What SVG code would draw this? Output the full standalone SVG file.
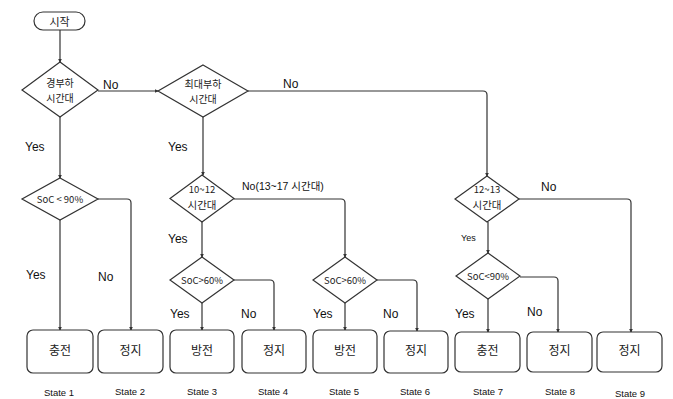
<svg xmlns="http://www.w3.org/2000/svg" width="673" height="399" viewBox="0 0 673 399">
<style>
.shape{fill:#fff;stroke:#333;stroke-width:1.2}
.edge{fill:none;stroke:#333;stroke-width:1.2;marker-end:url(#arr)}
.ko{font-family:"Noto Sans CJK KR","Liberation Sans",sans-serif;fill:#222;text-anchor:middle}
.lb{font-family:"Liberation Sans","Noto Sans CJK KR",sans-serif;fill:#111;font-size:12px}
.st{font-family:"Liberation Sans",sans-serif;fill:#111;font-size:9.5px;text-anchor:middle}
</style>
<defs>
<marker id="arr" viewBox="0 0 6 6" refX="5" refY="3" markerWidth="4" markerHeight="4" orient="auto" markerUnits="userSpaceOnUse">
<path d="M0,0 L6,3 L0,6 Z" fill="#333"/>
</marker>
</defs>
<rect width="673" height="399" fill="#fff"/>
<g id="connectors">
<path class="edge" d="M60,30 V62"/>
<path class="edge" d="M98,91 H158"/>
<path class="edge" d="M60,117 V178"/>
<path class="edge" d="M98,199 H127 Q131,199 131,203 V330"/>
<path class="edge" d="M60,220 V330"/>
<path class="edge" d="M248,91 H483 Q487,91 487,95 V176"/>
<path class="edge" d="M203,117 V175"/>
<path class="edge" d="M234,199 H341 Q345,199 345,203 V257"/>
<path class="edge" d="M202,222 V257"/>
<path class="edge" d="M202,303 V330"/>
<path class="edge" d="M234,280 H270 Q274,280 274,284 V330"/>
<path class="edge" d="M345,303 V330"/>
<path class="edge" d="M377,280 H413 Q417,280 417,284 V331"/>
<path class="edge" d="M519,199 H627 Q631,199 631,203 V332"/>
<path class="edge" d="M488,222 V253"/>
<path class="edge" d="M488,299 V332"/>
<path class="edge" d="M520,277 H554 Q558,277 558,281 V332"/>
</g>
<g id="start"><rect class="shape" x="34" y="12" width="51" height="18" rx="9"/><text class="ko" x="59.5" y="25.5" font-size="11">시작</text></g>
<g id="d1"><polygon class="shape" points="60,62 98,90 60,117 22,90"/><text class="ko" x="60" y="87" font-size="10">경부하</text><text class="ko" x="60" y="102" font-size="10">시간대</text></g>
<g id="d2"><polygon class="shape" points="203,65 248,91 203,117 158,91"/><text class="ko" x="203" y="88" font-size="10">최대부하</text><text class="ko" x="203" y="103" font-size="10">시간대</text></g>
<g id="d3"><polygon class="shape" points="60,178 98,199 60,220 22,199"/><text class="ko" x="60" y="202.5" font-size="9.5">SoC &lt; 90%</text></g>
<g id="d4"><polygon class="shape" points="202,175 234,198.5 202,222 170,198.5"/><text class="ko" x="202" y="193" font-size="9.5">10~12</text><text class="ko" x="202" y="209" font-size="10.5">시간대</text></g>
<g id="d5"><polygon class="shape" points="202,257 234,280 202,303 170,280"/><text class="ko" x="202" y="283.5" font-size="9.5">SoC&gt;60%</text></g>
<g id="d6"><polygon class="shape" points="345,257 377,280 345,303 313,280"/><text class="ko" x="345" y="283.5" font-size="9.5">SoC&gt;60%</text></g>
<g id="d7"><polygon class="shape" points="487,176 519,199 487,222 455,199"/><text class="ko" x="487" y="193" font-size="9.5">12~13</text><text class="ko" x="487" y="209" font-size="10.5">시간대</text></g>
<g id="d8"><polygon class="shape" points="488,253 520,276 488,299 456,276"/><text class="ko" x="488" y="279.5" font-size="9.5">SoC&lt;90%</text></g>
<g id="b1"><rect class="shape" x="27" y="330" width="66" height="43" rx="6"/><text class="ko" x="60" y="355" font-size="12">충전</text></g>
<g id="b2"><rect class="shape" x="98" y="330" width="65" height="43" rx="6"/><text class="ko" x="130.5" y="355" font-size="12">정지</text></g>
<g id="b3"><rect class="shape" x="170" y="330" width="64" height="43" rx="6"/><text class="ko" x="202" y="355" font-size="12">방전</text></g>
<g id="b4"><rect class="shape" x="242" y="330" width="64" height="43" rx="6"/><text class="ko" x="274" y="355" font-size="12">정지</text></g>
<g id="b5"><rect class="shape" x="313" y="330" width="64" height="43" rx="6"/><text class="ko" x="345" y="355" font-size="12">방전</text></g>
<g id="b6"><rect class="shape" x="384" y="331" width="64" height="42" rx="6"/><text class="ko" x="416" y="355" font-size="12">정지</text></g>
<g id="b7"><rect class="shape" x="455" y="332" width="65" height="40" rx="6"/><text class="ko" x="487.5" y="355" font-size="12">충전</text></g>
<g id="b8"><rect class="shape" x="527" y="332" width="65" height="40" rx="6"/><text class="ko" x="559.5" y="355" font-size="12">정지</text></g>
<g id="b9"><rect class="shape" x="597" y="332" width="65" height="40" rx="6"/><text class="ko" x="629.5" y="355" font-size="12">정지</text></g>
<g id="labels">
<text class="lb" x="103" y="89">No</text>
<text class="lb" x="283" y="88">No</text>
<text class="lb" x="25" y="151">Yes</text>
<text class="lb" x="168" y="151">Yes</text>
<text class="lb" x="242" y="190" style="font-size:10.5px">No(13~17 시간대)</text>
<text class="lb" x="168" y="243">Yes</text>
<text class="lb" x="26" y="279">Yes</text>
<text class="lb" x="98" y="281">No</text>
<text class="lb" x="170" y="318">Yes</text>
<text class="lb" x="241" y="318">No</text>
<text class="lb" x="313" y="318">Yes</text>
<text class="lb" x="383" y="318">No</text>
<text class="lb" x="541" y="191">No</text>
<text class="lb" x="461" y="241" style="font-size:9px">Yes</text>
<text class="lb" x="455" y="318">Yes</text>
<text class="lb" x="527" y="316">No</text>
<text class="st" x="59" y="396">State 1</text>
<text class="st" x="130" y="395">State 2</text>
<text class="st" x="202" y="395">State 3</text>
<text class="st" x="273" y="395">State 4</text>
<text class="st" x="344" y="395">State 5</text>
<text class="st" x="415" y="395">State 6</text>
<text class="st" x="488" y="395">State 7</text>
<text class="st" x="560" y="395">State 8</text>
<text class="st" x="630" y="397">State 9</text>
</g>
</svg>
